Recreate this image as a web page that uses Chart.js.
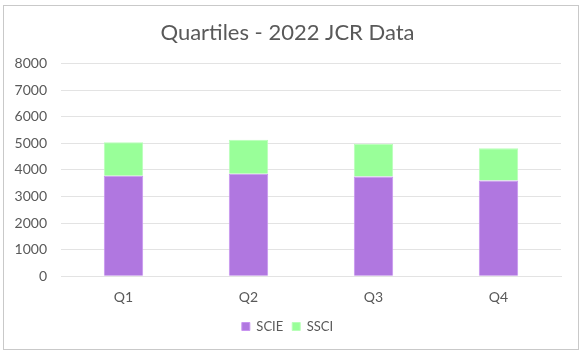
<!DOCTYPE html>
<html>
<head>
<meta charset="utf-8">
<script src="https://cdn.jsdelivr.net/npm/chart.js@4"></script>
<style>
  html, body { margin: 0; padding: 0; background: #fff; }
  #wrap { width: 585px; height: 354px; }
</style>
</head>
<body>
<div id="wrap"><canvas id="chart" width="585" height="354"></canvas></div>
<script>
const categories = ['Q1', 'Q2', 'Q3', 'Q4'];
const scieValues = [3780, 3850, 3750, 3600];
const ssciValues = [1260, 1280, 1230, 1210];
const yTicks = [0, 1000, 2000, 3000, 4000, 5000, 6000, 7000, 8000];

const textGray = '#595959';
const gridGray = '#e3e3e3';

// outer frame like the office chart box
const frame = {
  id: 'frame',
  beforeDraw(chart) {
    const ctx = chart.ctx;
    ctx.save();
    ctx.fillStyle = '#fff';
    ctx.fillRect(0, 0, chart.width, chart.height);
    ctx.strokeStyle = '#c9c9c9';
    ctx.lineWidth = 1;
    ctx.strokeRect(3.5, 5.5, 575, 344);
    ctx.restore();
  }
};

new Chart(document.getElementById('chart'), {
  type: 'bar',
  data: {
    labels: categories,
    datasets: [{
      label: 'SCIE',
      data: scieValues,
      backgroundColor: '#b077e0',
      borderColor: '#c894f0',
      borderWidth: 1,
      categoryPercentage: 1,
      barPercentage: 0.315
    }, {
      label: 'SSCI',
      data: ssciValues,
      backgroundColor: '#99ff99',
      borderColor: '#b8ffb8',
      borderWidth: 1,
      categoryPercentage: 1,
      barPercentage: 0.315
    }]
  },
  options: {
    responsive: false,
    animation: false,
    layout: { padding: { left: 14, right: 24, top: 15, bottom: 11 } },
    scales: {
      x: {
        stacked: true,
        grid: { display: false },
        border: { color: gridGray },
        ticks: { color: textGray, font: { family: 'Lato', size: 14 }, padding: 5 }
      },
      y: {
        stacked: true,
        min: 0,
        max: 8000,
        afterBuildTicks(scale) {
          scale.ticks = yTicks.map(v => ({ value: v }));
        },
        afterFit(scale) { scale.width = 47; },
        grid: { color: gridGray, drawTicks: false },
        border: { display: false },
        ticks: {
          color: textGray,
          font: { family: 'Lato', size: 14 },
          padding: 14,
          callback: v => String(v)
        }
      }
    },
    plugins: {
      title: {
        display: true,
        text: 'Quartiles - 2022 JCR Data',
        color: textGray,
        font: { family: 'Lato', size: 22, weight: 'normal' },
        padding: { top: 5, bottom: 17 }
      },
      legend: {
        position: 'bottom',
        labels: {
          color: textGray,
          font: { family: 'Lato', size: 13 },
          boxWidth: 8,
          boxHeight: 8,
          padding: 9
        }
      },
      tooltip: { enabled: false }
    }
  },
  plugins: [frame]
});
</script>
</body>
</html>
